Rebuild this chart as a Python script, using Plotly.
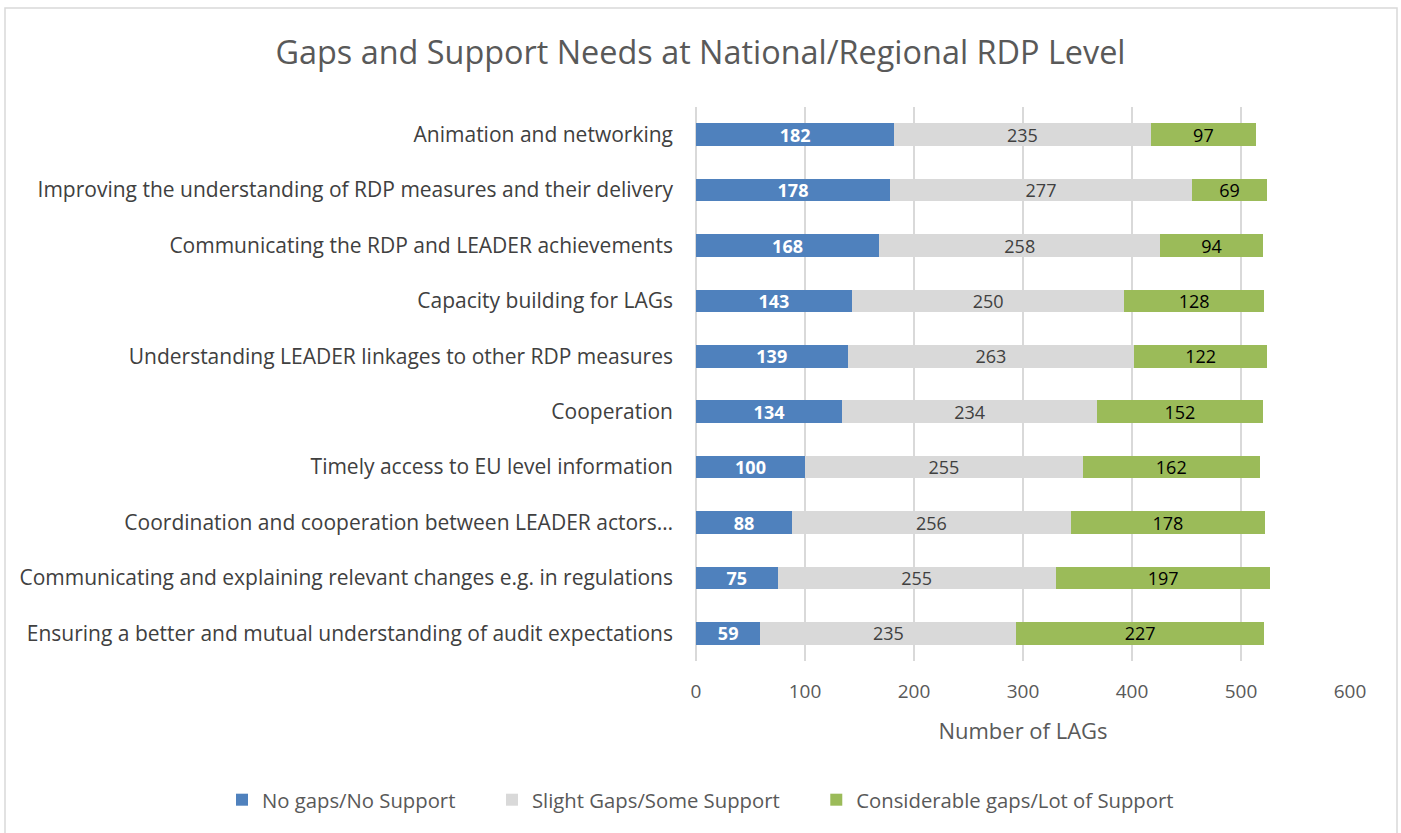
import plotly.graph_objects as go

categories = [
    "Animation and networking",
    "Improving the understanding of RDP measures and their delivery",
    "Communicating the RDP and LEADER achievements",
    "Capacity building for LAGs",
    "Understanding LEADER linkages to other RDP measures",
    "Cooperation",
    "Timely access to EU level information",
    "Coordination and cooperation between LEADER actors…",
    "Communicating and explaining relevant changes e.g. in regulations",
    "Ensuring a better and mutual understanding of audit expectations",
]
no_gaps = [182, 178, 168, 143, 139, 134, 100, 88, 75, 59]
slight_gaps = [235, 277, 258, 250, 263, 234, 255, 256, 255, 235]
considerable_gaps = [97, 69, 94, 128, 122, 152, 162, 178, 197, 227]

series_names = ["No gaps/No Support", "Slight Gaps/Some Support", "Considerable gaps/Lot of Support"]
colors = ["#4F81BD", "#D9D9D9", "#9BBB59"]
text_colors = ["#FFFFFF", "#404040", "#000000"]

FONT = "Open Sans"
PAD = "\u00a0" * 6

fig = go.Figure()
for i, (name, vals, col, tcol) in enumerate(zip(series_names, [no_gaps, slight_gaps, considerable_gaps], colors, text_colors)):
    fig.add_trace(go.Bar(
        y=categories, x=vals, name=name + (PAD if i < 2 else ""), orientation="h",
        marker=dict(color=col, line=dict(width=0)),
        text=[str(v) for v in vals],
        textposition="inside", insidetextanchor="middle",
        textangle=0, constraintext="none",
        textfont=dict(color=tcol, size=18, family=FONT),
        texttemplate=("<b>%{text}</b>" if tcol == "#FFFFFF" else "%{text}"),
        cliponaxis=False,
    ))

L, R, T, B = 696, 51, 107, 172
W, H = 1401, 833
pw, ph = W - L - R, H - T - B

fig.update_layout(
    width=W, height=H,
    barmode="stack", bargap=0.59,
    plot_bgcolor="white", paper_bgcolor="white",
    margin=dict(l=L, r=R, t=T, b=B),
    title=dict(text="Gaps and Support Needs at National/Regional RDP Level",
               x=0.5, xanchor="center", y=1 - 53 / H, yanchor="middle",
               font=dict(size=32.4, color="#595959", family=FONT)),
    xaxis=dict(range=[0, 600], dtick=100, showgrid=True, gridcolor="#D9D9D9", gridwidth=1.5,
               zeroline=True, zerolinecolor="#D9D9D9", zerolinewidth=1.5,
               tickfont=dict(size=19, color="#595959", family=FONT),
               ticks="", ticklabelstandoff=17,
               title=dict(text="Number of LAGs", font=dict(size=22, color="#595959", family=FONT), standoff=20)),
    yaxis=dict(autorange="reversed", showgrid=False, ticks="", ticklabelstandoff=22,
               tickfont=dict(size=21, color="#404040", family=FONT)),
    legend=dict(orientation="h", xref="paper", yref="paper",
                x=(222 - L) / pw, xanchor="left", y=-(800 - (T + ph)) / ph, yanchor="middle",
                font=dict(size=20.3, color="#595959", family=FONT),
                itemwidth=30, traceorder="normal"),
    showlegend=True,
)

# outer chart border
fig.add_shape(type="rect", xref="paper", yref="paper",
              x0=(5 - L) / pw, x1=(1397 - L) / pw,
              y0=(T + ph - 845) / ph, y1=(T + ph - 8) / ph,
              line=dict(color="#D9D9D9", width=1.5), fillcolor="rgba(0,0,0,0)", layer="below")

fig.write_html("out.html", config={"displayModeBar": False},
               post_script="document.body.style.margin='0';")
